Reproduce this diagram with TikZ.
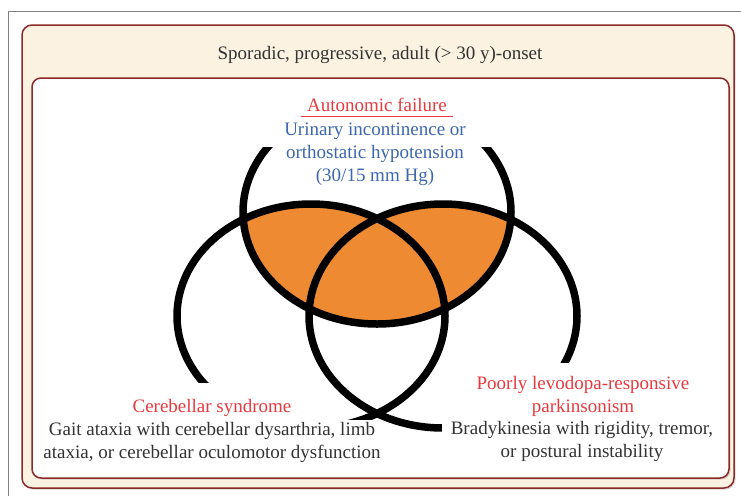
\documentclass[tikz,border=0pt]{standalone}
\usepackage{fontspec}
\setmainfont{Liberation Serif}
\usepackage{xcolor}
\usetikzlibrary{shadows}
\definecolor{boxred}{HTML}{8C2A2A}
\definecolor{cream}{HTML}{FBF2E1}
\definecolor{vennorange}{HTML}{EE8A32}
\definecolor{headred}{HTML}{E83A3F}
\definecolor{headblue}{HTML}{3D68B0}
\definecolor{bodygray}{HTML}{333333}

\begin{document}
\begin{tikzpicture}[x=1pt,y=-1pt,
    lbl/.style={font=\fontsize{19}{23}\selectfont, align=center, inner sep=1pt},
    ring/.style={line width=7.5pt, black},
    mask/.style={fill=white},
    panel/.style={draw=boxred, line width=1.5pt, rounded corners=10pt,
        drop shadow={shadow xshift=1.5pt, shadow yshift=-1.5pt, opacity=0.3}}]
    \useasboundingbox (0,0) rectangle (741,496);
    \draw[gray, line width=1pt] (8,496) -- (8,11) -- (741,11);
    \draw[panel, fill=cream] (22,25) rectangle (734,488);
    \draw[panel, fill=white, rounded corners=9pt] (32,78) rectangle (729,478);
    \node[lbl, text=bodygray] (onset) at (380,55) {Sporadic, progressive, adult (> 30 y)-onset};
    \coordinate (ctop) at (377,212);
    \coordinate (cleft) at (311,316);
    \coordinate (cright) at (443,316);
    \begin{scope}
        \clip (ctop) ellipse [x radius=134, y radius=112];
        \fill[vennorange] (cleft) ellipse [x radius=134, y radius=112]
            (cright) ellipse [x radius=134, y radius=112];
    \end{scope}
    \draw[ring] (ctop) ellipse [x radius=134, y radius=112];
    \draw[ring] (cleft) ellipse [x radius=134, y radius=112];
    \draw[ring] (cright) ellipse [x radius=134, y radius=112];
    \fill[mask] (255,88) rectangle (500,147);
    \fill[mask] (120,383) rectangle (305,420);
    \fill[mask] (40,420) rectangle (382,468);
    \fill[mask] (465,363) rectangle (700,418);
    \fill[mask] (442,418) rectangle (722,468);
    \node[lbl, text=headred] (autofail) at (377,105) {Autonomic failure};
    \draw[headred, line width=0.8pt] ([xshift=-5pt, yshift=-3pt]autofail.south west) -- ([xshift=5pt, yshift=-3pt]autofail.south east);
    \node[lbl, text=headblue] (autotext) at (375,154) {Urinary incontinence or\\orthostatic hypotension\\(30/15 mm Hg)};
    \node[lbl, text=headred] (cereb) at (212,408) {Cerebellar syndrome};
    \node[lbl, text=bodygray] (cerebtext) at (212,442) {Gait ataxia with cerebellar dysarthria, limb\\ataxia, or cerebellar oculomotor dysfunction};
    \node[lbl, text=headred] (parkin) at (583,396) {Poorly levodopa-responsive\\parkinsonism};
    \node[lbl, text=bodygray] (parkintext) at (582,441) {Bradykinesia with rigidity, tremor,\\or postural instability};
\end{tikzpicture}
\end{document}
